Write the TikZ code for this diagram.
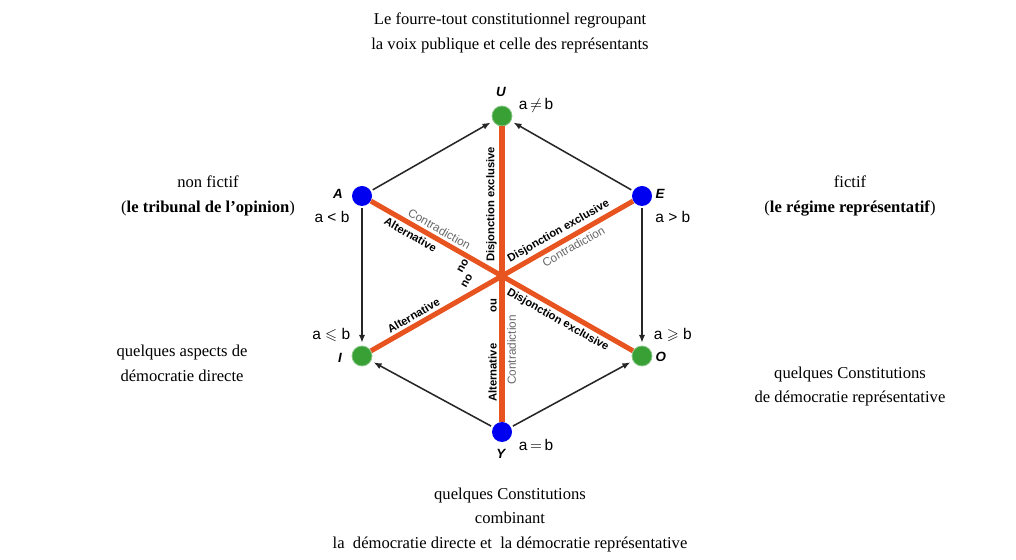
\documentclass[tikz,border=0pt]{standalone}
\usepackage{amssymb}
\usepackage{fontspec}
\setmainfont{Liberation Serif}
\setsansfont{Liberation Sans}
\usetikzlibrary{arrows.meta}

\definecolor{hexorange}{RGB}{232,84,32}
\definecolor{hexblue}{RGB}{0,0,240}
\definecolor{hexgreen}{RGB}{56,160,52}
\definecolor{hexgray}{RGB}{105,105,105}

\begin{document}
\begin{tikzpicture}[
    font=\sffamily,
    vertex/.style={circle, minimum size=0.5cm, inner sep=0pt},
    corner/.style={vertex, fill=hexblue},
    subcorner/.style={vertex, fill=hexgreen, draw=hexgreen!60!white, line width=0.6pt},
    letter/.style={font=\sffamily\bfseries\itshape\fontsize{9.5}{10}\selectfont, inner sep=0pt},
    order/.style={font=\sffamily\fontsize{11}{12}\selectfont, inner sep=0pt},
    opposition/.style={draw=hexorange, line width=3.6pt},
    implies/.style={-{Latex[length=2mm,width=1.6mm]}, line width=1.1pt, draw=black!85, shorten <=1.5pt, shorten >=2pt},
    strong/.style={font=\sffamily\bfseries\fontsize{8}{9}\selectfont, sloped, inner sep=2pt},
    weak/.style={font=\sffamily\fontsize{8.4}{9}\selectfont, text=hexgray, sloped, inner sep=2pt},
    comment/.style={font=\rmfamily\fontsize{11.8}{17.5}\selectfont, align=center, inner sep=0pt}
]
\useasboundingbox (0,0) rectangle (25.4,14);

\node[subcorner] (U) at (12.55,11.10) {};
\node[corner] (A) at (9.05,9.10) {};
\node[corner] (E) at (16.05,9.10) {};
\node[subcorner] (I) at (9.05,5.10) {};
\node[subcorner] (O) at (16.05,5.10) {};
\node[corner] (Y) at (12.55,3.20) {};

\node[letter] (Uname) at (12.525,11.70) {U};
\node[letter] (Aname) at (8.45,9.15) {A};
\node[letter] (Ename) at (16.50,9.15) {E};
\node[letter] (Iname) at (8.50,5.05) {I};
\node[letter] (Oname) at (16.52,5.075) {O};
\node[letter] (Yname) at (12.52,2.66) {Y};

\node[order] (Urel) at (13.40,11.36) {a$\,\neq\,$b};
\node[order] (Arel) at (8.30,8.57) {a < b};
\node[order] (Erel) at (16.82,8.57) {a > b};
\node[order] (Irel) at (8.28,5.62) {a $\leqslant$ b};
\node[order] (Orel) at (16.82,5.62) {a $\geqslant$ b};
\node[order] (Yrel) at (13.40,2.88) {a$\,=\,$b};

\draw[opposition] (Y) -- node[strong,pos=0.166,above] {Alternative}
    node[weak,pos=0.243,below] {Contradiction}
    node[strong,pos=0.392,above] {ou}
    node[strong,pos=0.736,above] {Disjonction exclusive} (U);
\draw[opposition] (A) -- node[weak,pos=0.243,above] {Contradiction}
    node[strong,pos=0.169,below] {Alternative}
    node[strong,pos=0.733,below] {Disjonction exclusive} (O);
\draw[opposition] (I) -- node[strong,pos=0.18,above] {Alternative}
    node[strong,pos=0.736,above] {Disjonction exclusive}
    node[weak,pos=0.754,below] {Contradiction} (E);
\node[strong, sloped=false, rotate=-120] (ouAO) at (11.575,7.35) {ou};
\node[strong, sloped=false, rotate=-120] (ouIE) at (11.675,6.975) {ou};

\draw[implies] (A) -- (U);
\draw[implies] (E) -- (U);
\draw[implies] (A) -- (I);
\draw[implies] (E) -- (O);
\draw[implies] (Y) -- (I);
\draw[implies] (Y) -- (O);

\node[comment] (top) at (12.75,13.17) {Le fourre-tout constitutionnel regroupant\\la voix publique et celle des repr\'esentants};
\node[comment] (left) at (5.20,9.10) {non fictif\\(\textbf{le tribunal de l'opinion})};
\node[comment] (right) at (21.25,9.10) {fictif\\(\textbf{le r\'egime repr\'esentatif})};
\node[comment] (lowleft) at (4.55,4.92) {quelques aspects de\\d\'emocratie directe};
\node[comment] (lowright) at (21.25,4.34) {quelques Constitutions\\de d\'emocratie repr\'esentative};
\node[comment] (bottom) at (12.75,1.00) {quelques Constitutions\\combinant\\la\ \ d\'emocratie directe et\ \ la d\'emocratie repr\'esentative};
\end{tikzpicture}
\end{document}
